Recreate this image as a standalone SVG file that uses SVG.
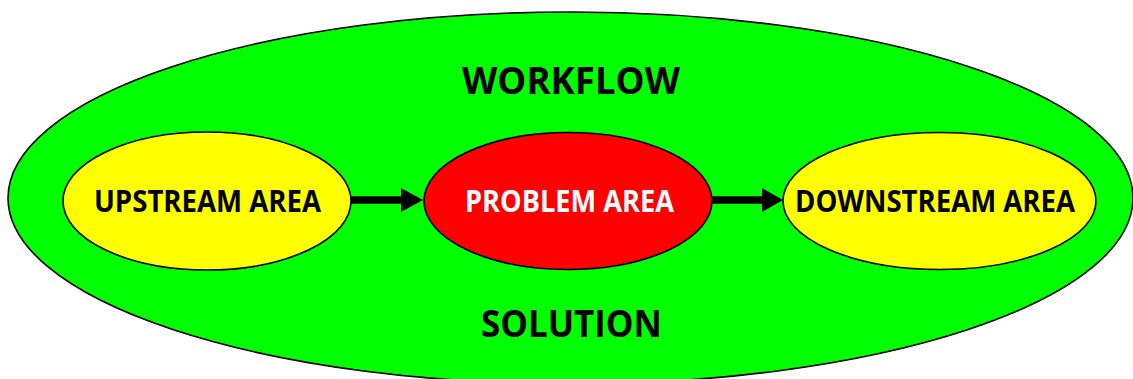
<svg xmlns="http://www.w3.org/2000/svg" width="1133" height="379" viewBox="0 0 1133 379">
  <style>
    .lbl { font-family: "Open Sans", "Liberation Sans", Arial, sans-serif; font-weight: bold; text-anchor: middle; }
    .node { stroke: #000; stroke-width: 1.6; }
    .conn { stroke: #000; stroke-width: 7.5; fill: none; }
    .head { fill: #000; }
  </style>
  <rect width="1133" height="379" fill="#fff"/>
  <g id="workflow">
    <ellipse class="node" cx="570.5" cy="198" rx="562.5" ry="186" fill="#00ff00"/>
    <text class="lbl" x="571" y="94" font-size="38" textLength="218" lengthAdjust="spacingAndGlyphs">WORKFLOW</text>
    <text class="lbl" x="571.5" y="337" font-size="37" textLength="181" lengthAdjust="spacingAndGlyphs">SOLUTION</text>
  </g>
  <g id="connectors">
    <line class="conn" x1="351" y1="200" x2="402" y2="200"/>
    <path class="head" d="M401,188 L423,200 L401,212 Z"/>
    <line class="conn" x1="712" y1="200" x2="763" y2="200"/>
    <path class="head" d="M762,188 L783,200 L762,212 Z"/>
  </g>
  <g id="upstream">
    <ellipse class="node" cx="207" cy="201" rx="144" ry="69" fill="#ffff00"/>
    <text class="lbl" x="207.5" y="211.5" font-size="29.5" textLength="227" lengthAdjust="spacingAndGlyphs">UPSTREAM AREA</text>
  </g>
  <g id="problem">
    <ellipse class="node" cx="568" cy="201" rx="144" ry="68.5" fill="#ff0000"/>
    <text class="lbl" x="569.5" y="211.5" font-size="29.5" textLength="209" lengthAdjust="spacingAndGlyphs" fill="#fff">PROBLEM AREA</text>
  </g>
  <g id="downstream">
    <ellipse class="node" cx="939.5" cy="201" rx="156.5" ry="68.5" fill="#ffff00"/>
    <text class="lbl" x="935" y="211.5" font-size="29.5" textLength="280" lengthAdjust="spacingAndGlyphs">DOWNSTREAM AREA</text>
  </g>
</svg>
